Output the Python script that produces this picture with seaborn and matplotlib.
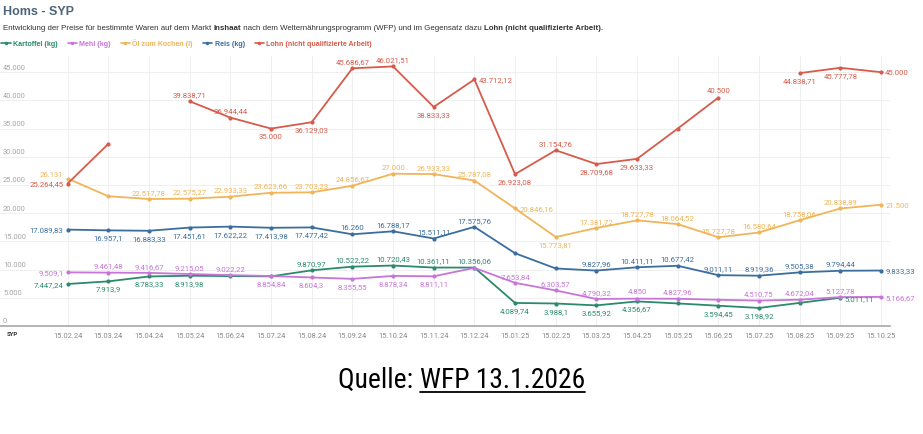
import numpy as np
import pandas as pd
import seaborn as sns
import matplotlib.pyplot as plt
from matplotlib.lines import Line2D

# --- data ---
dates = ['15.02.24', '15.03.24', '15.04.24', '15.05.24', '15.06.24', '15.07.24', '15.08.24',
         '15.09.24', '15.10.24', '15.11.24', '15.12.24', '15.01.25', '15.02.25', '15.03.25',
         '15.04.25', '15.05.25', '15.06.25', '15.07.25', '15.08.25', '15.09.25', '15.10.25']
nan = np.nan
kartoffel = [7447.24, 7913.9, 8783.33, 8913.98, 8850, 8800, 9870.97, 10522.22, 10720.43, 10361.11,
             10356.06, 4089.74, 3988.1, 3655.92, 4356.67, 4000, 3594.45, 3198.92, 4100, 5011.11, nan]
mehl = [9509.1, 9461.48, 9416.67, 9215.05, 9022.22, 8854.84, 8604.3, 8355.55, 8878.34, 8811.11,
        10300, 7653.84, 6303.57, 4790.32, 4850, 4827.96, 4650, 4510.75, 4672.04, 5127.78, 5166.67]
oel = [26131, 23000, 22517.78, 22575.27, 22933.33, 23623.66, 23703.23, 24856.67, 27000, 26933.33,
       25787.08, 20846.16, 15773.81, 17381.72, 18727.78, 18064.52, 15727.78, 16580.64, 18758.06,
       20838.89, 21500]
reis = [17089.83, 16957.1, 16883.33, 17451.61, 17622.22, 17413.98, 17477.42, 16260, 16788.17,
        15511.11, 17575.76, 12900, 10200, 9827.96, 10411.11, 10677.42, 9011.11, 8919.36, 9505.38,
        9794.44, 9833.33]
lohn = [25264.45, 32300, nan, 39838.71, 36944.44, 35000, 36129.03, 45686.67, 46021.51, 38833.33,
        43712.12, 26923.08, 31154.76, 28709.68, 29633.33, 35000, 40500, nan, 44838.71, 45777.78, 45000]

series_names = ['Kartoffel (kg)', 'Mehl (kg)', 'Öl zum Kochen (l)', 'Reis (kg)',
                'Lohn (nicht qualifizierte Arbeit)']
series_values = [kartoffel, mehl, oel, reis, lohn]
colors = ['#2b8a6c', '#c775d8', '#f0b559', '#3b6e9f', '#d75b4b']

# label placement per point: a=above, b=below, l=left, u=left-up, r=right, ''=hidden
place_kartoffel = ['l', 'b', 'b', 'b', '', '', 'a', 'a', 'a', 'a', 'a', 'b', 'b', 'b', 'b', '', 'b', 'b', '', 'r', '']
place_mehl = ['l', 'a', 'a', 'a', 'a', 'b', 'b', 'b', 'b', 'b', '', 'a', 'a', 'a', 'a', 'a', '', 'a', 'a', 'a', 'r']
place_oel = ['u', '', 'a', 'a', 'a', 'a', 'a', 'a', 'a', 'a', 'a', 'r', 'b', 'a', 'a', 'a', 'a', 'a', 'a', 'a', 'r']
place_reis = ['l', 'b', 'b', 'b', 'b', 'b', 'b', 'a', 'a', 'a', 'a', '', '', 'a', 'a', 'a', 'a', 'a', 'a', 'a', 'r']
place_lohn = ['l', '', '', 'a', 'a', 'b', 'b', 'a', 'a', 'b', 'r', 'b', 'a', 'b', 'b', '', 'a', '', 'b', 'b', 'r']
placements = [place_kartoffel, place_mehl, place_oel, place_reis, place_lohn]

y_ticks = list(range(0, 50000, 5000))


def fmt_de(v):
    s = f"{v:,.2f}"
    if s.endswith('.00'):
        s = s[:-3]
    elif s.endswith('0'):
        s = s[:-1]
    return s.replace(',', 'X').replace('.', ',').replace('X', '.')


# --- style ---
sns.set_style('white')
plt.rcParams['font.family'] = ['Roboto', 'DejaVu Sans']
head_font = ['Liberation Sans', 'DejaVu Sans']

W, H = 923, 435
fig = plt.figure(figsize=(W / 100, H / 100), dpi=100)
ax = fig.add_axes([0, 1 - 327 / H, 890 / W, (327 - 57) / H])

x_idx = np.arange(len(dates))
for name, vals, col in zip(series_names, series_values, colors):
    df = pd.DataFrame({'x': x_idx, 'y': vals})
    # split at gaps so the line breaks where a value is missing
    df['seg'] = df['y'].isna().cumsum()
    df = df.dropna()
    for _, seg in df.groupby('seg'):
        sns.lineplot(data=seg, x='x', y='y', ax=ax, color=col, lw=1.3,
                     marker='o', markersize=3, markeredgewidth=0, legend=False)

offsets = {'a': ((0, 3), 'center', 'bottom'), 'b': ((0, -3), 'center', 'top'),
           'l': ((-3, 0), 'right', 'center'), 'u': ((-3, 3), 'right', 'center'),
           'r': ((3, 0), 'left', 'center')}
for vals, col, places in zip(series_values, colors, placements):
    for i, (v, p) in enumerate(zip(vals, places)):
        if p == '' or np.isnan(v):
            continue
        off, ha, va = offsets[p]
        ax.annotate(fmt_de(v), (i, v), xytext=off, textcoords='offset points',
                    ha=ha, va=va, fontsize=5.6, color=col)

ax.set_xlim(-1.665, 20.22)
ax.set_ylim(0, 47870)
ax.set_xticks(x_idx, dates)
ax.set_yticks(y_ticks)
ax.set_yticklabels([])
ax.set_xlabel('')
ax.set_ylabel('')
ax.tick_params(axis='x', length=0, pad=4, labelsize=5.4, labelcolor='#8a8a8a')
ax.tick_params(axis='y', length=0)
ax.grid(True, color='#ececec', lw=0.6)
ax.set_axisbelow(True)
for s in ['top', 'right', 'left']:
    ax.spines[s].set_visible(False)
ax.spines['bottom'].set_color('#a8a8a8')
ax.spines['bottom'].set_linewidth(1.2)

for t in y_ticks:
    ax.annotate(fmt_de(t), (0, t), xycoords=ax.get_yaxis_transform(), xytext=(3, 1.5),
                textcoords='offset pixels', ha='left', va='bottom', fontsize=5.4, color='#a5a5a5')

# --- texts around the plot ---
fig.text(12 / W, 1 - 335 / H, 'SYP', fontsize=4.3, weight='bold', color='#333333',
         ha='center', va='center')
fig.text(3 / W, 1 - 12 / H, 'Homs - SYP', fontsize=9, weight='bold', color='#4f6479',
         family=head_font, ha='left', va='center')

renderer = fig.canvas.get_renderer()
parts = [('Entwicklung der Preise für bestimmte Waren auf dem Markt ', 'normal'),
         ('Inshaat', 'bold'),
         (' nach dem Welternährungsprogramm (WFP) und im Gegensatz dazu ', 'normal'),
         ('Lohn (nicht qualifizierte Arbeit).', 'bold')]
xpos = 3
for txt, w in parts:
    t = fig.text(xpos / W, 1 - 28 / H, txt, fontsize=5.7, weight=w, color='#333333',
                 family=head_font, ha='left', va='center')
    xpos = t.get_window_extent(renderer).x1

handles = [Line2D([0], [0], color=c, lw=1.2, marker='o', markersize=2.5, markeredgewidth=0)
           for c in colors]
fig.legend(handles, series_names, loc='center left', bbox_to_anchor=(0, 1 - 44 / H), ncol=5,
           frameon=False, prop={'family': head_font, 'size': 5.1, 'weight': 'bold'},
           handlelength=1.3, handletextpad=0.35,
           columnspacing=1.4, borderaxespad=0, borderpad=0.2, labelcolor=colors)

# source line, second part underlined
src_font = ['Liberation Sans Narrow', 'Roboto Condensed', 'Roboto', 'DejaVu Sans']
t1 = fig.text(0, 1 - 380 / H, 'Quelle: ', fontsize=19.8, family=src_font, color='black',
              ha='left', va='center')
t2 = fig.text(0, 1 - 380 / H, 'WFP 13.1.2026', fontsize=19.8, family=src_font, color='black',
              ha='left', va='center')
w1 = t1.get_window_extent(renderer).width
w2 = t2.get_window_extent(renderer).width
x0 = (W - (w1 + w2)) / 2
t1.set_x(x0 / W)
t2.set_x((x0 + w1) / W)
fig.add_artist(Line2D([(x0 + w1) / W, (x0 + w1 + w2) / W], [1 - 393 / H, 1 - 393 / H],
                      color='black', lw=1.3))

fig.savefig('out.png', dpi=100)
